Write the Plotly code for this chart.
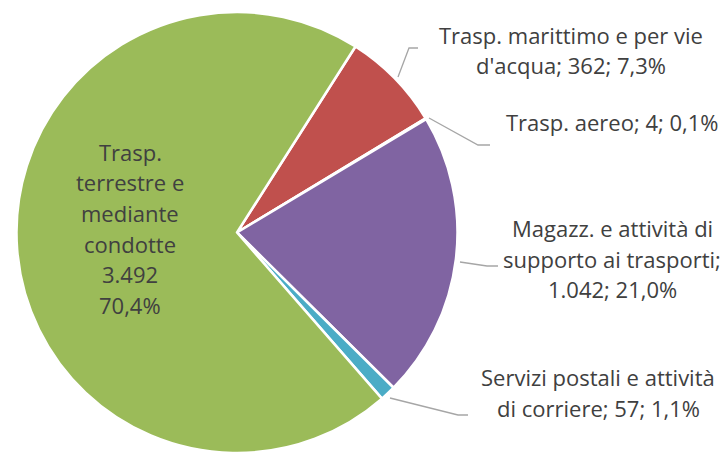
import plotly.graph_objects as go

W, H = 724, 453
OFF_X, OFF_Y = 0, 0

# ---- data ----
categories = ["Trasp. marittimo e per vie d'acqua", "Trasp. aereo",
              "Magazz. e attività di supporto ai trasporti",
              "Servizi postali e attività di corriere",
              "Trasp. terrestre e mediante condotte"]
values = [362, 4, 1042, 57, 3492]
pct_labels = ["7,3%", "0,1%", "21,0%", "1,1%", "70,4%"]
value_labels = ["362", "4", "1.042", "57", "3.492"]
colors = ["#C0504D", "#F79646", "#8064A2", "#4BACC6", "#9BBB59"]

# label line breaks (text as in the chart)
label_lines = [
    ["Trasp. marittimo e per vie", "d'acqua; 362; 7,3%"],
    ["Trasp. aereo; 4; 0,1%"],
    ["Magazz. e attività di", "supporto ai trasporti;", "1.042; 21,0%"],
    ["Servizi postali e attività", "di corriere; 57; 1,1%"],
    ["Trasp.", "terrestre e", "mediante", "condotte", "3.492", "70,4%"],
]

# ---- layout constants (window pixels) ----
label_pos = [(571, 35), (612, 122), (612, 228), (598, 377), (130, 152)]
line_gap = 30.5
leaders = [
    [(398, 77), (409, 48), (418, 48)],
    [(429, 118), (478, 145), (490, 145)],
    [(460, 262), (487, 266), (498, 266)],
    [(390, 398), (458, 415), (468, 415)],
]
pie_left, pie_top, pie_diam = 15, 12, 444

def px(x):
    return (x - OFF_X) / W

def py(y):
    return 1 - (y - OFF_Y) / H

fig = go.Figure(go.Pie(
    labels=categories,
    values=values,
    sort=False,
    direction="clockwise",
    rotation=32.5,
    marker=dict(colors=colors, line=dict(color="white", width=2.5)),
    textinfo="none",
    hoverinfo="label+value+percent",
    domain=dict(x=[px(pie_left), px(pie_left + pie_diam)],
                y=[max(0, py(pie_top + pie_diam)), min(1, py(pie_top))]),
    showlegend=False,
))

font = dict(family="Open Sans, Calibri, sans-serif", size=22, color="#404040")
annotations = []
for lines, (cx, cy) in zip(label_lines, label_pos):
    for i, t in enumerate(lines):
        annotations.append(dict(
            x=px(cx), y=py(cy + i * line_gap), xref="paper", yref="paper",
            text=t, showarrow=False, xanchor="center", yanchor="middle",
            font=font))

shapes = []
for pts in leaders:
    path = "M " + " L ".join(f"{px(x)},{py(y)}" for x, y in pts)
    shapes.append(dict(type="path", xref="paper", yref="paper", path=path,
                       line=dict(color="#A6A6A6", width=1.3)))

fig.update_layout(
    width=W, height=H,
    margin=dict(l=0, r=0, t=0, b=0),
    paper_bgcolor="white", plot_bgcolor="white",
    annotations=annotations, shapes=shapes,
)

fig.write_html(
    "out.html",
    config={"displayModeBar": False},
    post_script="document.body.style.margin='0';document.body.style.overflow='hidden';",
)
